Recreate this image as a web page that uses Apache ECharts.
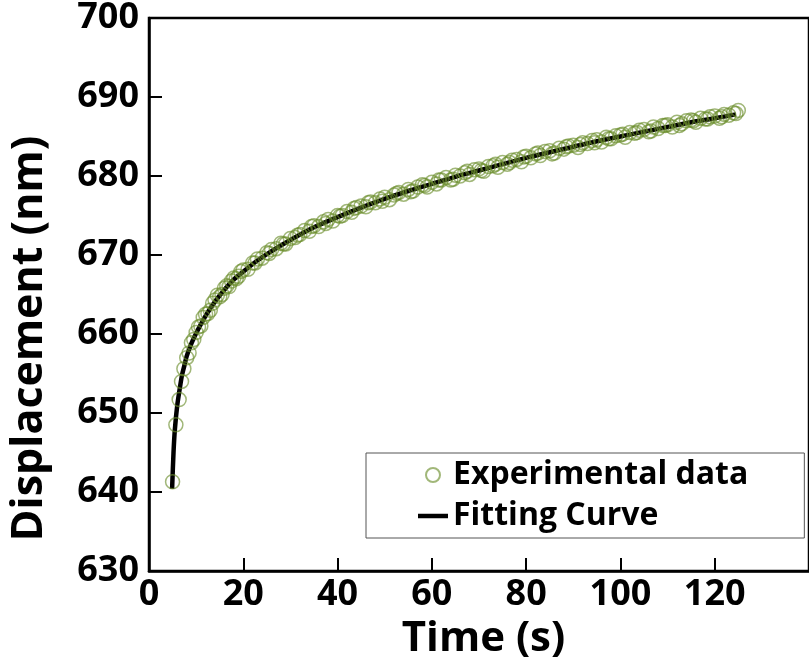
<!DOCTYPE html>
<html>
<head>
<meta charset="utf-8">
<script src="https://cdn.jsdelivr.net/npm/echarts@6/dist/echarts.min.js"></script>
<style>
  html, body { margin: 0; padding: 0; background: #fff; }
  #chart { width: 809px; height: 670px; }
</style>
</head>
<body>
<div id="chart"></div>
<script>
// Creep displacement measured under constant load, with the fitted model curve.
const expTime = [5, 5.7, 6.4, 6.9, 7.4, 8, 8.5, 9, 9.5, 10, 11, 12, 13, 14, 15, 16, 17, 18, 19, 20,
  21, 22, 23, 24, 25, 26, 27, 28, 29, 30, 31, 32, 33, 34, 35, 36, 37, 38, 39, 40,
  41, 42, 43, 44, 45, 46, 47, 48, 49, 50, 51, 52, 53, 54, 55, 56, 57, 58, 59, 60,
  61, 62, 63, 64, 65, 66, 67, 68, 69, 70, 71, 72, 73, 74, 75, 76, 77, 78, 79, 80,
  81, 82, 83, 84, 85, 86, 87, 88, 89, 90, 91, 92, 93, 94, 95, 96, 97, 98, 99, 100,
  101, 102, 103, 104, 105, 106, 107, 108, 109, 110, 111, 112, 113, 114, 115, 116, 117, 118, 119, 120,
  121, 122, 123, 124, 125];
const expDisp = [641.3, 648.5, 651.7, 654.0, 655.6, 657.0, 657.6, 658.9, 659.3, 660.2, 661.0, 662.5, 663.0, 664.3, 664.7, 665.8, 666.0, 667.1, 667.3, 668.1,
  668.2, 669.0, 669.5, 669.6, 670.3, 670.7, 670.8, 671.5, 671.4, 672.1, 672.2, 672.6, 673.1, 673.0, 673.7, 673.6, 674.2, 674.5, 674.3, 675.0,
  675.0, 675.5, 675.4, 676.0, 676.2, 676.1, 676.7, 676.6, 677.1, 677.3, 677.0, 677.6, 677.9, 677.7, 678.3, 678.1, 678.6, 678.9, 678.6, 679.2,
  679.0, 679.5, 679.8, 679.5, 680.1, 680.0, 680.4, 680.2, 680.8, 680.9, 680.6, 681.2, 681.3, 681.1, 681.7, 681.5, 682.0, 682.1, 681.8, 682.5,
  682.3, 682.8, 682.6, 683.1, 683.2, 682.9, 683.5, 683.4, 683.8, 683.9, 683.6, 684.2, 684.1, 684.5, 684.6, 684.3, 684.9, 684.7, 685.1, 685.2,
  684.9, 685.5, 685.4, 685.8, 685.9, 685.6, 686.2, 686.0, 686.4, 686.5, 686.2, 686.8, 686.6, 687.0, 687.1, 686.8, 687.3, 687.2, 687.5, 687.6,
  687.3, 687.8, 687.7, 688.0, 688.3];

// Intermediate readings taken between the whole-second samples.
const expTimeHalf = [10.5, 11.5, 12.5, 13.5, 14.5, 15.5, 16.5, 17.5, 18.5, 19.5, 22.5, 25.5, 28.5, 31.5, 34.5, 37.5, 40.5, 43.5, 46.5, 49.5,
  52.5, 55.5, 58.5, 61.5, 64.5, 67.5, 70.5, 73.5, 76.5, 79.5, 82.5, 85.5, 88.5, 91.5, 94.5, 97.5, 100.5, 103.5, 106.5, 109.5,
  112.5, 115.5, 118.5, 121.5, 124.5];
const expDispHalf = [660.9, 662.1, 662.6, 663.9, 664.9, 665.0, 666.1, 666.7, 667.0, 667.9, 669.0, 670.2, 671.4, 672.5, 673.6, 674.0, 674.9, 675.9, 676.6, 676.8,
  677.8, 678.0, 678.8, 679.5, 679.6, 680.6, 680.7, 681.5, 681.7, 682.4, 682.9, 682.8, 683.7, 684.0, 684.2, 684.7, 685.3, 685.5, 685.7, 686.4,
  686.4, 687.0, 687.2, 687.5, 687.9];

const fitTime = [4.9, 5.2, 5.5, 6, 6.5, 7, 7.5, 8, 9, 10, 12, 14, 16, 18, 20, 23, 26, 30, 35, 40,
  45, 50, 55, 60, 65, 70, 75, 80, 85, 90, 95, 100, 105, 110, 115, 120, 124.5];
const fitDisp = [640.4, 645.0, 648.0, 651.0, 653.0, 654.8, 656.0, 657.2, 658.8, 660.1, 662.3, 664.1, 665.6, 666.9, 667.9, 669.3, 670.5, 671.9, 673.5, 674.8,
  676.0, 677.1, 678.1, 679.0, 679.9, 680.7, 681.5, 682.3, 683.0, 683.7, 684.4, 685.0, 685.6, 686.2, 686.8, 687.3, 687.8];

const xTicks = { min: 0, max: 140, step: 20 };
const yTicks = { min: 630, max: 700, step: 10 };

const expPoints = expTime.map((t, i) => [t, expDisp[i]])
  .concat(expTimeHalf.map((t, i) => [t, expDispHalf[i]]))
  .sort((a, b) => a[0] - b[0]);
const fitPoints = fitTime.map((t, i) => [t, fitDisp[i]]);

const FONT = 'Open Sans';
const chart = echarts.init(document.getElementById('chart'), null, { renderer: 'canvas' });

chart.setOption({
  backgroundColor: '#ffffff',
  animation: false,
  grid: {
    left: 148, top: 17, width: 682, height: 554,
    show: true, borderColor: '#000', borderWidth: 2.5, backgroundColor: 'transparent'
  },
  legend: {
    orient: 'vertical',
    left: 366, top: 453,
    padding: [4, 56, 4, 52],
    itemGap: 5,
    itemWidth: 30, itemHeight: 14,
    symbolKeepAspect: true,
    backgroundColor: '#fff',
    borderColor: '#555', borderWidth: 1, borderRadius: 0,
    textStyle: { fontFamily: FONT, fontWeight: 'bold', fontSize: 32, color: '#000', lineHeight: 36 },
    data: [
      { name: 'Experimental data' },
      { name: 'Fitting Curve', icon: 'path://M0,0H30V4.5H0Z' }
    ]
  },
  xAxis: {
    type: 'value',
    min: xTicks.min, max: xTicks.max, interval: xTicks.step,
    name: 'Time (s)', nameLocation: 'middle', nameGap: 37,
    nameTextStyle: { fontFamily: FONT, fontWeight: 'bold', fontSize: 42, color: '#000', padding: [0, 0, 0, 9] },
    axisLine: { show: true, lineStyle: { color: '#000', width: 2.5 } },
    axisTick: { show: true, inside: true, length: 13, lineStyle: { color: '#000', width: 2 } },
    axisLabel: { fontFamily: FONT, fontWeight: 'bold', fontSize: 36, color: '#000', margin: 6, showMaxLabel: false },
    splitLine: { show: false }
  },
  yAxis: {
    type: 'value',
    min: yTicks.min, max: yTicks.max, interval: yTicks.step,
    name: 'Displacement (nm)', nameLocation: 'middle', nameGap: 98,
    nameTextStyle: { fontFamily: FONT, fontWeight: 'bold', fontSize: 43, color: '#000', padding: [0, 88, 0, 0] },
    axisLine: { show: true, lineStyle: { color: '#000', width: 2.5 } },
    axisTick: { show: true, inside: true, length: 13, lineStyle: { color: '#000', width: 2 } },
    axisLabel: { fontFamily: FONT, fontWeight: 'bold', fontSize: 36, color: '#000', margin: 10 },
    splitLine: { show: false }
  },
  series: [
    {
      name: 'Fitting Curve',
      type: 'line',
      data: fitPoints,
      symbol: 'none',
      smooth: 0.3,
      lineStyle: { color: '#000', width: 4.5 },
      itemStyle: { color: '#000' },
      z: 2
    },
    {
      name: 'Experimental data',
      type: 'scatter',
      data: expPoints,
      symbol: 'circle',
      symbolSize: 14,
      itemStyle: { color: 'rgba(0,0,0,0)', borderColor: 'rgba(108,142,46,0.8)', borderWidth: 1.5 },
      z: 3
    }
  ]
});
</script>
</body>
</html>
